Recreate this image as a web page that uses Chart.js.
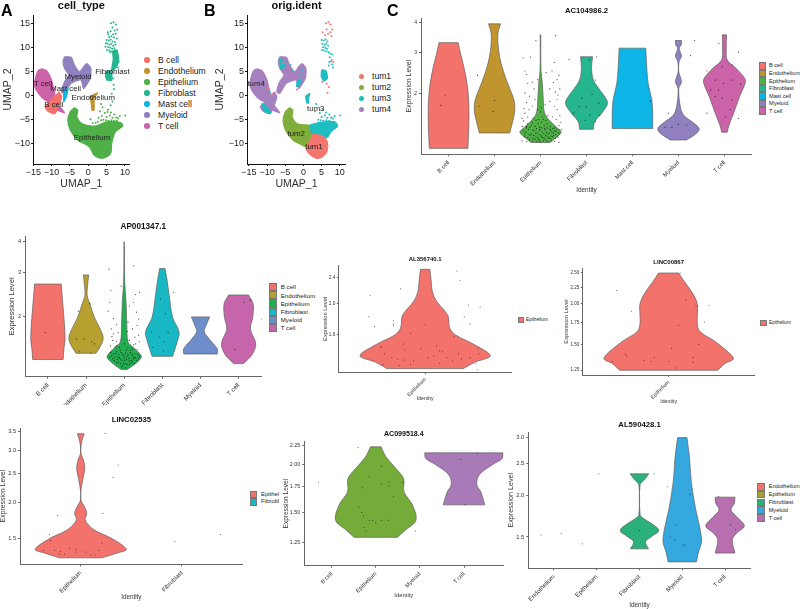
<!DOCTYPE html>
<html>
<head>
<meta charset="utf-8">
<script src="https://cdn.jsdelivr.net/npm/chart.js@4"></script>
<style>
  html, body { margin: 0; background: #fff; }
  #page { position: relative; width: 800px; height: 609px; overflow: hidden; font-family: "Liberation Sans", sans-serif; color: #222; background: #fff; filter: blur(.35px); }
  #page canvas { position: absolute; }
  .tag { position: absolute; font-weight: bold; font-size: 16px; line-height: 16px; color: #000; }
  .txt { position: absolute; white-space: nowrap; }
  .box { position: absolute; box-sizing: border-box; border: 1px solid #777; }
  .dot { position: absolute; border-radius: 50%; }
</style>
</head>
<body>
<div id="page"></div>
<script>
// colours
const salmon = "#F4726C", gold = "#C0952E", green = "#4FB048", teal = "#25B58F", sky = "#0DB4E6", lilac = "#9080C0", pink = "#CC62A8";
const tum1Color = "#F2766E", tum2Color = "#7FAE3A", tum3Color = "#1DBDC0", tum4Color = "#A780C0";

// UMAP cluster outlines
const tCellShape = [[-12.7,5.6],[-11.4,5.2],[-10.3,3.8],[-9.6,2],[-9.1,.1],[-9.8,-1.25],[-11.8,-.9],[-13.6,.5],[-14.7,2.2],[-14.2,4.3],[-13.6,5.3]];
const tCellTail = [[-8.9,-1.2],[-6.5,-3.5],[-8.5,-3],[-9.6,-2]];
const bCellShape = [[-8,.8],[-7.3,-.2],[-8,-1.9],[-9.1,-3.7],[-10.9,-3.3],[-11.8,-2.3],[-10.5,-1.25],[-9.1,-.2]];
const mastShape = [[-6.7,1.2],[-5.5,1.5],[-6,-.2],[-6.7,-1.25]];
const myeloidShape = [[-6.5,8.1],[-4.7,8],[-3.8,6.4],[-2.4,5],[-1.3,6],[-.4,6.7],[.7,5.7],[.5,3.6],[-1.3,1.5],[-2,3.3],[-4.7,2.6],[-6.5,.5],[-7.3,.8],[-6.5,2.9],[-5.3,4.3],[-6.5,5.7],[-6.9,7.1]];
const endoShape = [[.45,-.2],[2.5,.6],[1.6,-.55],[1.6,-3],[1,-3],[.8,-1.6]];
const fibroHead = [[4.9,5],[7.4,5.7],[8.3,7.4],[7.8,9.5],[6.7,9.3],[6.8,7.6],[6.4,5.6],[6.4,3.2],[5.2,3.2],[4.7,4.2]];
const epitheliumShape = [[-3.8,-2.5],[-2.9,-3],[-3.1,-4.4],[-1.5,-5.9],[2,-6.3],[5.2,-5.4],[8.8,-5.6],[9.4,-6.3],[7.4,-7.5],[6.4,-9.9],[6.1,-12],[3.9,-13],[1.6,-12.4],[.3,-10.6],[-2.9,-9.2],[-4.9,-7.2],[-5.6,-5.1],[-4.9,-3.3]];
const fibroDots = [[5.3,13.2],[6.2,15.1],[6.9,15.3],[7.5,14.8],[7.9,13.8],[6.6,14.2],[7.2,13.6],[6.1,13.4],[6.8,12.8],[7.5,12.9],[5.7,12.2],[6.3,12.4],[7,12.1],[7.8,11.9],[5,11.6],[5.6,11.5],[6.1,11.7],[6.6,11.3],[7.3,11.2],[4.8,10.9],[5.2,10.8],[5.8,10.6],[6.3,10.8],[6.8,10.4],[7.4,10.6],[4.7,10.2],[5.4,10.1],[6,10],[6.5,9.8],[7.1,9.9],[5.1,9.5],[5.7,9.4],[6.3,9.2],[6.9,9.1],[7.7,9.4],[5.4,12.8],[6,9.1],[7.3,8.8],[7.9,8.6],[7.2,8],[8,8],[7.6,7.2],[8.3,7],[7.1,7],[7.9,6.5],[7,6.3],[8.1,5.9],[6.9,2.3],[7,1.4],[6.4,.4],[6.6,-1.2],[6.1,-2],[6.8,3.6]];
const epiDots = [[3.2,-3.2],[3.7,-4.2],[4.5,-3.6],[5,-4.4],[5.4,-2.9],[5.9,-4.1],[6.2,-3.5],[6.6,-4.6],[7.1,-3.9],[7.6,-4.5],[8.1,-4.7],[8.6,-4.2],[10.1,-4.1],[4.1,-5],[4.8,-5.1],[5.5,-5.2],[6.3,-5.1],[7.1,-5.2],[7.8,-5.2],[3.5,-5.1],[2.6,-5.4],[2,-5.6],[1.2,-5.7],[.6,-4.9],[3.9,-2.4],[3.5,-1.7],[5.2,-3.4],[2.8,-4.6]];

// panel B mixes the samples over the same clusters
const tum1Shape = [[2.5,-8],[5,-8.3],[6.5,-9.5],[6.5,-11.5],[5,-12.8],[3.5,-13],[1.5,-12],[.7,-10.6],[1.8,-9.5]];
const tum2Shape = [[-3.8,-2.5],[-2.9,-3],[-3.1,-4.4],[-1.5,-5.9],[2,-6.3],[2.2,-8],[1.8,-9.5],[.7,-10.6],[-1,-10],[-2.9,-9.2],[-4.9,-7.2],[-5.6,-5.1],[-4.9,-3.3]];
const tum3Shape = [[2,-6],[5,-5.5],[8.5,-5.4],[9.4,-6.3],[7.5,-7.5],[6.5,-8.7],[4.5,-8.5],[2.5,-8.2],[2,-7]];
const tum3Tail = [[-11.5,-1.6],[-10,-2.2],[-9,-3.7],[-10.5,-3.4]];
const tum3Endo = [[.6,-.1],[1.8,.5],[1.4,-.5],[1.4,-1.6],[.9,-1.4]];
const tum3Head = [[5,5.4],[6.2,5.2],[6.6,3.6],[5.6,3.1],[4.9,4]];
const tum3Lobe = [[-6.6,7.8],[-5.8,7.4],[-5.2,6.2],[-6,5.6],[-6.5,6.6]];
const tum3Right = [[-1,2.2],[-.8,3.5],[-1.6,3.1],[-1.9,1.9]];
const tum1Dots = [[6.2,15.1],[6.9,15.3],[7.5,14.8],[7.9,13.8],[5.3,13.2],[6.4,13.8],[7.4,13.2],[6,12.6],[7.7,12.4],[6.8,12.9],[7.8,7.5],[8.2,7],[5.2,2.9],[6.4,2.5],[7,1.8],[6.6,.6],[-5.6,6.8],[-4.2,5.8],[-9.6,1.4],[-8.7,.2],[-1.8,1.3]];
const tum3Dots = [[5,11.6],[5.6,11.5],[6.1,11.7],[6.6,11.3],[5.2,10.8],[5.8,10.6],[6.3,10.8],[6.8,10.4],[5.4,10.1],[6,10],[6.5,9.8],[5.1,9.5],[5.7,9.4],[6.3,9.2],[6.9,9.1],[7.3,8.8],[7.9,8.6],[7.2,8],[7.6,7.2],[7.1,7],[7.9,6.5],[7,6.3],[8.1,5.9],[3.2,-3.2],[4.5,-3.6],[5,-4.4],[5.4,-2.9],[5.9,-4.1],[6.2,-3.5],[6.6,-4.6],[7.1,-3.9],[7.6,-4.5],[8.1,-4.7],[8.6,-4.2],[10.1,-4.1],[4.1,-5],[4.8,-5.1],[5.5,-5.2],[6.3,-5.1],[7.1,-5.2],[3.5,-1.7],[-4.8,7.2],[-3.6,6.4],[-2.9,5.1],[-1.1,5.8],[-.3,5.4],[-.6,4.4],[-1.5,2.6],[-9.2,.6],[-9.8,-.8],[-8.2,-.8]];

const cellNames = ["B cell", "Endothelium", "Epithelium", "Fibroblast", "Mast cell", "Myeloid", "T cell"];
const cellColors = [salmon, gold, green, teal, sky, lilac, pink];
const tumNames = ["tum1", "tum2", "tum3", "tum4"];
const tumColors = [tum1Color, tum2Color, tum3Color, tum4Color];
const umapXTicks = [-15, -10, -5, 0, 5, 10];
const umapYTicks = [-10, -5, 0, 5, 10, 15];
const cellTags = [["B cell",-9.4,-1.95],["T cell",-12.3,2.4],["Mast cell",-6.2,1.4],["Myeloid",-2.8,3.85],["Fibroblast",6.6,5],["Endothelium",1.35,-.5],["Epithelium",1,-8.7]];
const tumTags = [["tum4",-13,2.4],["tum3",3.4,-2.8],["tum2",-2,-8],["tum1",2.9,-10.6]];

// violin levels (expression value) and half widths (in category units)
const ac104986 = {
  ticks: [2, 3, 4],
  bCell: [[3.29,3.07,2.61,2.22,1.83,1.46,1.18], [.21,.24,.33,.40,.44,.44,.42]],
  endothelium: [[3.95,3.55,2.87,2.37,1.89,1.71,1.55,1.37], [.13,.07,.11,.23,.42,.44,.40,.33]],
  epithelium: [[3.55,2.52,2.22,1.89,1.66,1.53,1.43,1.38,1.32,1.25], [.007,.01,.04,.06,.09,.22,.38,.45,.36,.21]],
  fibroblast: [[2.87,2.74,2.57,2.29,2.08,1.89,1.80,1.66,1.53,1.42], [.13,.12,.11,.15,.29,.44,.45,.33,.18,.15]],
  mast: [[3.12,2.61,2.22,1.89,1.66,1.43], [.29,.31,.34,.42,.44,.44]],
  myeloid: [[3.36,3.22,3.12,2.89,2.74,2.48,2.25,2.11,1.77,1.63,1.53,1.43,1.37,1.28], [.065,.06,.015,.065,.015,.007,.065,.007,.04,.11,.29,.45,.40,.18]],
  tCell: [[3.55,3.07,2.78,2.57,2.33,2.22,1.95,1.66,1.48,1.38], [.045,.04,.06,.25,.44,.45,.33,.20,.10,.06]]
};
const ac104986Dots = [[-.08,1.98],[-.17,1.79],[1,1.88],[.97,1.69],[.66,1.78],[.63,2.4],
  [2.62,2.8],[3.06,2.78],[3.22,2.87],[3.2,2.29],[3.12,2],[2.9,1.92],[3,1.77],[2.72,1.66],[3.07,1.63],[3.29,1.63],[2.97,1.55],[3.19,1.53],[2.84,1.77],[3.27,1.83],[4.39,1.87],
  [4.78,1.66],[4.86,1.45],[5,1.49],[5.18,1.48],[5.26,2.9],[5.35,3.36],[4.71,1.45],
  [5.88,3.27],[6.31,3],[6.17,2.65],[5.95,2.61],[5.62,2.5],[5.8,2.29],[6.16,2.29],[5.98,2.22],[6.35,2.2],[5.8,1.95],[5.95,1.92],[6.17,1.89],[5.62,1.66],[6.31,1.58],[6.02,1.6],[6.13,1.72],[5.7,2.08],[5.87,2.08],
  [1.62,2.84],[1.78,2.86],[1.9,3.36],[2.33,3.52],[1.66,2.5],[1.72,2.22],[1.82,2.24],[1.94,2.3],[2.12,2.46],[2.25,2.5],[2.36,2.3],[2.4,2.4],[2.3,2.72],[2.2,2.1],[2.32,2.04],[2.38,1.98],[1.66,2.02],[1.76,1.96],[1.88,1.9],[1.7,1.84],[1.82,1.78],[1.94,1.72],[2.1,1.8],[2.2,1.86],[2.3,1.78],[2.36,1.72],[1.66,1.66],[1.72,1.6],[1.84,1.58],[2.16,1.62],[2.26,1.6],[2.34,1.56],[1.63,1.54],[1.6,1.46],
  [1.72,1.5],[1.8,1.48],[1.88,1.46],[1.95,1.5],[2.02,1.52],[2.08,1.47],[2.14,1.5],[2.22,1.46],[2.3,1.44],[2.4,1.47],[2.46,1.42],[1.62,1.4],[1.68,1.38],[1.74,1.42],[1.8,1.36],[1.86,1.4],[1.92,1.37],[1.98,1.42],[2.04,1.38],[2.1,1.41],[2.16,1.36],[2.22,1.4],[2.28,1.37],[2.34,1.39],[2.4,1.36],[1.66,1.33],[1.72,1.31],[1.78,1.34],[1.84,1.3],[1.9,1.33],[1.96,1.29],[2.02,1.32],[2.08,1.3],[2.14,1.33],[2.2,1.3],[2.26,1.32],[2.32,1.3],[2.38,1.31],[1.6,1.27],[1.7,1.26],[1.82,1.27],[1.92,1.26],[2,1.25],[2.06,1.27],[2.16,1.26],[2.3,1.26],[2.4,1.25],[1.96,1.56],[2.04,1.6],[2,1.68],[2.02,1.75],[1.98,1.45],
  [1.65,1.36],[1.69,1.44],[1.75,1.35],[1.77,1.45],[1.83,1.41],[1.85,1.34],[1.89,1.37],[1.91,1.43],[1.94,1.31],[1.97,1.35],[1.99,1.4],[2.01,1.34],[2.03,1.44],[2.05,1.31],[2.07,1.36],[2.09,1.43],[2.11,1.34],[2.13,1.38],[2.15,1.44],[2.17,1.31],[2.19,1.37],[2.21,1.42],[2.23,1.33],[2.25,1.38],[2.27,1.43],[2.29,1.34],[2.31,1.4],[2.33,1.35],[2.35,1.42],[2.37,1.33],[2.39,1.38],[2.42,1.41],[1.7,1.46],[1.76,1.29],[1.88,1.29],[1.98,1.27],[2.12,1.28],[2.24,1.28],[1.82,1.52],[1.9,1.55],[2.06,1.56],[2.12,1.55],[1.64,1.74],[1.7,2.42],[2.42,2.1],[2.36,1.9],[1.75,1.72],[2.28,2.24],[2.42,1.62],[1.6,1.58],[2.44,1.52],[1.86,2.1]];

const ap001347 = {
  ticks: [2, 3, 4],
  bCell: [[2.7,2.35,1.98,1.63,1.48,1.34], [.35,.38,.42,.45,.42,.40]],
  endothelium: [[2.94,2.66,2.43,2.25,1.98,1.78,1.63,1.51,1.42], [.07,.04,.03,.10,.22,.37,.45,.37,.26]],
  epithelium: [[4,2.75,2.28,1.84,1.58,1.51,1.42,1.37,1.31,1.22], [.005,.015,.05,.07,.10,.22,.40,.45,.35,.08]],
  fibroblast: [[3.12,2.83,2.43,1.98,1.73,1.58,1.38], [.07,.12,.18,.27,.44,.39,.27]],
  myeloid: [[1.99,1.81,1.73,1.6,1.48,1.41], [.24,.13,.10,.26,.44,.44]],
  tCell: [[2.44,2.25,1.98,1.78,1.55,1.4,1.29], [.26,.38,.37,.31,.45,.35,.13]]
};
const ap001347Dots = [[-.07,1.72],[.8,2.1],[1.1,2.25],[.75,1.62],[.95,1.62],[1.15,1.58],[1.12,1.42],[1.22,1.55],[.82,1.45],
  [1.6,3.1],[1.65,2.55],[1.62,2.28],[1.58,2.1],[2.25,3.2],[1.92,2.65],[2.3,2.45],[2.4,2.5],[2.24,2.28],[2.14,2.2],[2.32,2.08],[2.38,1.95],[1.72,1.96],[1.8,1.85],[1.66,1.78],[1.72,1.7],[1.84,1.72],[2.1,1.9],[2.22,1.78],[2.34,1.84],[2.08,1.74],[2.28,1.65],[1.7,1.6],[1.8,1.58],[2.14,1.6],[2.3,1.55],[2.4,1.58],[1.64,1.52],[1.76,1.5],[1.88,1.5],[2,1.55],[2.1,1.5],[2.2,1.48],[2.34,1.47],
  [1.65,1.43],[1.72,1.41],[1.8,1.44],[1.86,1.4],[1.92,1.43],[1.98,1.39],[2.04,1.42],[2.1,1.4],[2.16,1.43],[2.22,1.39],[2.28,1.42],[2.36,1.4],[1.62,1.37],[1.7,1.35],[1.76,1.37],[1.82,1.34],[1.88,1.36],[1.94,1.33],[2,1.36],[2.06,1.34],[2.12,1.36],[2.18,1.33],[2.24,1.35],[2.3,1.36],[2.38,1.35],[1.8,1.3],[1.9,1.29],[1.98,1.3],[2.08,1.28],[2.18,1.3],[2.26,1.29],[1.94,1.25],[2.04,1.24],
  [1.67,1.39],[1.74,1.33],[1.78,1.42],[1.84,1.37],[1.9,1.34],[1.96,1.41],[2.02,1.33],[2.07,1.38],[2.13,1.32],[2.2,1.41],[2.26,1.37],[2.33,1.33],[2.4,1.38],[1.85,1.31],[1.96,1.27],[2.02,1.29],[2.14,1.28],[2.22,1.32],[1.9,1.46],[2.06,1.46],[2.16,1.46],[1.8,1.52],[2.25,1.54],[1.68,1.66],[2.38,1.68],
  [2.95,2.35],[3.3,2.5],[2.72,1.73],[2.92,1.65],[3.15,1.72],[3.05,1.58],[3.03,1.45],[2.75,1.5],[3.08,2.05],[4.9,1.47],[5.8,2.3],[5.15,2.28],[5.3,2.32],[5.6,1.95],[5.78,1.7],[5.95,1.55],[5.72,1.5],[5.7,1.42],[6,1.6]];

const al356740 = { ticks: [1.6, 2, 2.4], epithelium: [[2.55,2.39,2.18,2.03,1.84,1.68,1.6,1.49,1.38,1.32,1.26], [.032,.04,.05,.08,.156,.17,.21,.345,.45,.345,.264]] };
const al356740Dots = [[.22,2.52],[.24,2.36],[-.17,2.22],[-.38,2.12],[.3,1.98],[.38,1.95],[.27,1.82],[-.39,1.82],[-.22,1.77],[-.22,1.73],[-.22,1.71],[-.35,1.7],[.31,1.73],[0,1.72],[-.1,1.62],[.2,1.58],[.08,1.48],[-.15,1.5],[-.3,1.47],[.37,1.46],[-.31,1.47],[-.28,1.4],[-.14,1.44],[-.03,1.45],[.1,1.43],[.12,1.42],[.23,1.4],[.37,1.4],[-.23,1.36],[-.19,1.35],[-.14,1.34],[-.08,1.33],[.02,1.36],[.06,1.38],[.15,1.36],[.25,1.35],[.31,1.36],[-.29,1.3],[-.18,1.29],[-.1,1.3],[.1,1.31],[.19,1.33],[.35,1.31],[.36,1.25]];
const linc00867 = { ticks: [1.25, 1.5, 1.75, 2, 2.25, 2.5], epithelium: [[2.49,2.34,2.13,1.99,1.89,1.72,1.64,1.53,1.36,1.31,1.25], [.07,.11,.174,.20,.20,.20,.22,.325,.45,.39,.34]] };
const linc00867Dots = [[.08,2.49],[-.36,2.2],[.12,2.06],[.19,1.97],[.28,1.98],[-.26,1.9],[.25,1.76],[.07,1.72],[.02,1.46],[.21,1.5],[-.3,1.4],[.17,1.37],[-.17,1.34],[-.12,1.33],[-.39,1.33],[-.29,1.38],[.17,1.32],[.05,1.27],[.0,1.33],[-.1,1.37]];
const linc02535 = { ticks: [1.5, 2, 2.5, 3, 3.5], epithelium: [[3.43,3.19,2.94,2.79,2.62,2.39,2.2,2.03,1.93,1.83,1.74,1.61,1.51,1.38,1.34,1.29], [.033,.007,.003,.026,.04,.02,.003,.003,.036,.06,.043,.13,.295,.45,.36,.21]] };
const linc02535Dots = [[.24,3.44],[.37,2.68],[.32,2.43],[.22,1.83],[-.23,1.8],[-.31,1.55],[-.3,1.48],[.93,1.47],[1.38,1.55],[.21,1.45],[-.37,1.37],[-.26,1.37],[-.21,1.33],[-.2,1.36],[-.16,1.33],[-.11,1.39],[-.05,1.38],[-.04,1.35],[.1,1.32],[.14,1.32],[.18,1.37],[.05,1.35]];
const ac099518 = { ticks: [1.25, 1.5, 1.75, 2, 2.25],
  epithelium: [[2.23,2.1,1.96,1.84,1.7,1.57,1.43,1.35,1.29], [.12,.23,.45,.63,.64,.83,.91,.68,.49]],
  tCell: [[2.15,2.08,2,1.88,1.77,1.7,1.57], [.89,.87,.64,.34,.29,.38,.47]] };
const ac099518Dots = [[.6,2.22],[1.13,1.98],[.85,1.86],[1.13,1.78],[1.3,1.8],[1.3,1.76],[.7,1.74],[1.4,1.65],[.68,1.5],[-.3,1.8],[.72,1.47],[.85,1.43],[.93,1.43],[1,1.41],[1.13,1.43],[1.29,1.43],[.73,1.37],[.78,1.34],[1.9,1.34],[2.92,2.07],[3.3,2.14],[3.02,1.57],[-.1,1.06],[1.6,1.8],[.62,1.55]];
const al590428 = { ticks: [1.5, 2, 2.5, 3],
  fibroblast: [[2.33,2.24,2.16,1.75,1.71,1.65,1.57,1.5,1.45,1.38], [.22,.12,.015,.015,.08,.27,.45,.27,.14,.21]],
  myeloid: [[3,2.6,2.21,1.83,1.6,1.45,1.35,1.26], [.11,.17,.21,.31,.41,.45,.38,.33]],
  tCell: [[1.98,1.9,1.81,1.73,1.62,1.54,1.47,1.34], [.23,.22,.14,.27,.45,.27,.17,.23]] };
const al590428Dots = [[-.3,1.52],[.17,1.54],[.66,1.43],[1.05,2.33],[2,1.57],[2.34,2.33],[2.65,2.13],[3.18,2.02],[2.85,1.63],[2.72,1.5],[2.83,1.47],[3.02,1.41],[3.06,1.42],[3.85,1.99],[4.13,1.63],[4.24,1.58]];

const page = document.getElementById("page");
const baseFont = "'Liberation Sans', sans-serif";
Chart.defaults.font.family = baseFont;

function closed(points) { return points.concat([points[0]]); }

function shape(points, color, tension = 0.3) {
  return { type: "scatter", data: closed(points).map(p => ({ x: p[0], y: p[1] })), showLine: true, fill: "shape", tension,
    backgroundColor: color, borderColor: color, borderWidth: 1.2, pointRadius: 0 };
}
function dots(points, color, r = 1) {
  return { type: "scatter", data: points.map(p => ({ x: p[0], y: p[1] })), backgroundColor: color, pointRadius: r, borderWidth: 0 };
}
// right side going down, left side coming back up; end levels doubled so the flat caps stay square
function violin(center, level, color) {
  const [values, widths] = level;
  const last = values.length - 1;
  const side = sign => values.flatMap((v, i) => {
    const pt = { x: center + sign * widths[i], y: v };
    return i === 0 || i === last ? [pt, pt] : [pt];
  });
  const outline = side(1).concat(side(-1).reverse());
  outline.push(outline[0]);
  return { type: "scatter", data: outline, showLine: true, fill: "shape", tension: 0.35, backgroundColor: color, borderColor: "#5f5f5f", borderWidth: 0.7, pointRadius: 0 };
}

const tagPlugin = {
  id: "tags",
  afterDatasetsDraw(chart, args, opts) {
    if (!opts.items) return;
    const ctx = chart.ctx;
    ctx.save();
    ctx.font = opts.size + "px " + baseFont;
    ctx.fillStyle = "#222";
    ctx.textAlign = "center";
    ctx.textBaseline = "middle";
    opts.items.forEach(t => ctx.fillText(t[0], chart.scales.x.getPixelForValue(t[1]), chart.scales.y.getPixelForValue(t[2])));
    ctx.restore();
  }
};

function panel(p) {
  const x0 = Math.round(p.yTitleX - 0.6 * p.yTitleSize);
  const y0 = Math.round(p.titleY - p.titleSize / 2);
  const bottom = p.xTitleY ? Math.ceil(p.xTitleY + 0.6 * p.xTitleSize) : p.canvasBottom;
  const w = Math.ceil(p.box[2]) - x0, h = bottom - y0;
  const c = document.createElement("canvas");
  c.width = w; c.height = h;
  c.style.left = x0 + "px"; c.style.top = y0 + "px";
  c.style.width = w + "px"; c.style.height = h + "px";
  page.appendChild(c);
  const axis = { color: p.axisColor, width: p.axisWidth };
  const grid = { drawOnChartArea: false, drawTicks: true, tickLength: p.tickLen, tickColor: p.axisColor, tickWidth: p.axisWidth };
  // chart.js paints the first dataset last, so number them to keep list order = paint order
  p.datasets.forEach((d, i) => { d.order = p.datasets.length - i; });
  new Chart(c, {
    data: { datasets: p.datasets },
    plugins: [tagPlugin],
    options: {
      responsive: false,
      animation: false,
      layout: { autoPadding: false, padding: { right: w - (p.box[2] - x0) } },
      plugins: {
        legend: { display: false },
        tooltip: { enabled: false },
        title: { display: true, text: p.title, fullSize: false, color: "#111",
          font: { size: p.titleSize, weight: "bold", lineHeight: 1 },
          padding: { top: 0, bottom: p.box[1] - y0 - p.titleSize } },
        tags: { items: p.tags, size: p.tagSize }
      },
      scales: {
        x: { type: "linear", min: p.xMin, max: p.xMax, border: axis, grid,
          title: { display: !!p.xTitleY, text: p.xTitle, color: "#333", padding: 0, font: { size: p.xTitleSize } },
          afterFit: s => { s.height = bottom - p.box[3]; },
          afterBuildTicks: s => { s.ticks = p.xTicks.map(v => ({ value: v })); },
          ticks: { autoSkip: false, minRotation: p.xRotate, maxRotation: p.xRotate, padding: p.xPad, color: p.tickColor,
            font: { size: p.xTickSize }, callback: p.xLabel } },
        y: { type: p.yType, min: p.yMin, max: p.yMax, border: axis, grid,
          title: { display: true, text: p.yTitle, color: "#333", padding: 0, font: { size: p.yTitleSize } },
          afterFit: s => { s.width = p.box[0] - x0; },
          afterBuildTicks: s => { s.ticks = p.yTicks.map(v => ({ value: v })); },
          ticks: { autoSkip: false, padding: p.yPad, color: p.tickColor, font: { size: p.yTickSize }, callback: p.yLabel } }
      }
    }
  });
}

function addText(text, x, y, size, cls = "txt") {
  const d = document.createElement("div");
  d.className = cls;
  d.textContent = text;
  d.style.left = x + "px"; d.style.top = (y - size * 0.6) + "px";
  d.style.fontSize = size + "px"; d.style.lineHeight = (size * 1.2) + "px";
  page.appendChild(d);
}
function circleLegend(names, colors, dotX, textX, topY, step, size) {
  names.forEach((n, i) => {
    const d = document.createElement("div");
    d.className = "dot";
    d.style.cssText = `left:${dotX - 2.75}px;top:${topY + i * step - 2.75}px;width:5.5px;height:5.5px;background:${colors[i]}`;
    page.appendChild(d);
    addText(n, textX, topY + i * step, size);
  });
}
function boxLegend(names, colors, boxX, textX, topY, step, boxW, size) {
  names.forEach((n, i) => {
    const d = document.createElement("div");
    d.className = "box";
    d.style.cssText = `left:${boxX}px;top:${topY + i * step}px;width:${boxW}px;height:${step}px;background:${colors[i]}`;
    page.appendChild(d);
    addText(n, textX, topY + i * step + step / 2, size);
  });
}

const minus = v => String(v).replace("-", "\u2212");
const umapBase = { yType: "linear", xTitle: "UMAP_1", yTitle: "UMAP_2", xTicks: umapXTicks, yTicks: umapYTicks, xRotate: 0,
  axisColor: "#111", axisWidth: 1, tickLen: 2, tickColor: "#222", titleSize: 11, titleY: 5, xTitleY: 183, xTitleSize: 10.5, yTitleSize: 10.5,
  xTickSize: 9, yTickSize: 9, xPad: 1, yPad: 1, xLabel: minus, yLabel: minus, tagSize: 7.8, yMin: -14.2, yMax: 16.8 };
const violinBase = { yType: "logarithmic", xRotate: 45, xTitle: "Identity", yTitle: "Expression Level", axisColor: "#666", axisWidth: 1, tickLen: 2, tickColor: "#333" };
const oneDigit = v => v.toFixed(1), twoDigit = v => v.toFixed(2), noDigit = v => String(v);
const catLabel = names => v => names[v];

// A
panel({ ...umapBase, title: "cell_type", box: [33, 15, 131, 164], yTitleX: 8, xMin: -15.1, xMax: 11.3, tags: cellTags,
  datasets: [
    shape(epitheliumShape, green), dots(epiDots, green), shape(endoShape, gold, .1), shape(fibroHead, teal, .2), dots(fibroDots, teal),
    shape(myeloidShape, lilac, .2), shape(tCellShape, pink), shape(tCellTail, pink, .1), shape(bCellShape, salmon, .2), shape(mastShape, sky, .1)
  ] });
// B
panel({ ...umapBase, title: "orig.ident", box: [247, 15, 346, 164], yTitleX: 220, xMin: -15.5, xMax: 11.7, tags: tumTags,
  datasets: [
    shape(tum2Shape, tum2Color), shape(tum3Shape, tum3Color), shape(tum1Shape, tum1Color), shape(tum3Endo, tum3Color, .1), shape(tum3Head, tum3Color, .2),
    shape(myeloidShape, tum4Color, .2), shape(tCellShape, tum4Color), shape(tCellTail, tum4Color, .1), shape(bCellShape, tum4Color, .2),
    shape(tum3Tail, tum3Color, .2), shape(tum3Lobe, tum3Color, .2), shape(tum3Right, tum3Color, .1), dots(tum3Dots, tum3Color), dots(tum1Dots, tum1Color)
  ] });
circleLegend(cellNames, cellColors, 147, 158, 60, 11, 8.6);
circleLegend(tumNames, tumColors, 361.3, 372, 76.3, 11, 8.6);

// C
panel({ ...violinBase, title: "AC104986.2", titleSize: 7.7, titleY: 10.7, box: [421, 18, 752, 154.3], yTitleX: 409, yTitleSize: 6.9, xTitleY: 190, xTitleSize: 6.4,
  xMin: -.6, xMax: 6.6, xTicks: [0,1,2,3,4,5,6], xLabel: catLabel(cellNames), yTicks: ac104986.ticks, yLabel: noDigit, yMin: 1.114, yMax: 4.18, xTickSize: 5.9, yTickSize: 5, xPad: 3, yPad: 2,
  datasets: [violin(0, ac104986.bCell, salmon), violin(1, ac104986.endothelium, gold), violin(2, ac104986.epithelium, green), violin(3, ac104986.fibroblast, teal), violin(4, ac104986.mast, sky), violin(5, ac104986.myeloid, lilac), violin(6, ac104986.tCell, pink), dots(ac104986Dots, "rgba(0,0,0,.75)", .6)] });
boxLegend(cellNames, cellColors, 758.7, 769, 62, 7.55, 7, 5.6);

// AP001347.1
const apNames = ["B cell", "Endothelium", "Epithelium", "Fibroblast", "Myeloid", "T cell"];
const apColors = [salmon, "#B8A030", "#22AE50", "#17B8C4", "#6D8DCB", "#C765AC"];
panel({ ...violinBase, title: "AP001347.1", titleSize: 8.2, titleY: 226.7, box: [25, 236, 261.5, 376.7], yTitleX: 12, yTitleSize: 7.6, canvasBottom: 405,
  xMin: -.6, xMax: 5.6, xTicks: [0,1,2,3,4,5], xLabel: catLabel(apNames), yTicks: ap001347.ticks, yLabel: noDigit, yMin: 1.142, yMax: 4.22, xTickSize: 6.3, yTickSize: 5.6, xPad: 3, yPad: 2,
  datasets: [violin(0, ap001347.bCell, apColors[0]), violin(1, ap001347.endothelium, apColors[1]), violin(2, ap001347.epithelium, apColors[2]), violin(3, ap001347.fibroblast, apColors[3]), violin(4, ap001347.myeloid, apColors[4]), violin(5, ap001347.tCell, apColors[5]), dots(ap001347Dots, "rgba(0,0,0,.75)", .6)] });
boxLegend(apNames, apColors, 269.3, 280.7, 283, 8.2, 7.6, 6.2);

// AL356740.1
panel({ ...violinBase, title: "AL356740.1", titleSize: 6, titleY: 258.7, box: [338.3, 265, 512, 372.7], yTitleX: 325, yTitleSize: 5.8, xTitleY: 398.3, xTitleSize: 5.2,
  xMin: -.6, xMax: .6, xTicks: [0], xLabel: catLabel(["Epithelium"]), yTicks: al356740.ticks, yLabel: oneDigit, yMin: 1.224, yMax: 2.63, xTickSize: 5.1, yTickSize: 4.7, xPad: 2.5, yPad: 1.5, tickLen: 1.5,
  datasets: [violin(0, al356740.epithelium, salmon), dots(al356740Dots, "rgba(0,0,0,.75)", .5)] });
boxLegend(["Epithelium"], [salmon], 517.7, 526, 317, 6.4, 6.4, 4.7);

// LINC00867
panel({ ...violinBase, title: "LINC00867", titleSize: 6, titleY: 261.7, box: [582.3, 268, 755, 375.3], yTitleX: 566, yTitleSize: 5.8, xTitleY: 401, xTitleSize: 5.2,
  xMin: -.6, xMax: .6, xTicks: [0], xLabel: catLabel(["Epithelium"]), yTicks: linc00867.ticks, yLabel: twoDigit, yMin: 1.206, yMax: 2.58, xTickSize: 5.1, yTickSize: 4.5, xPad: 2.5, yPad: 1.5, tickLen: 1.5,
  datasets: [violin(0, linc00867.epithelium, salmon), dots(linc00867Dots, "rgba(0,0,0,.75)", .5)] });
boxLegend(["Epithelium"], [salmon], 760.3, 769, 320, 6.4, 6.4, 4.7);

// LINC02535
panel({ ...violinBase, title: "LINC02535", titleSize: 7.7, titleY: 420, box: [20, 428, 242.7, 564.3], yTitleX: 3.5, yTitleSize: 6.9, xTitleY: 597, xTitleSize: 6.3,
  xMin: -.6, xMax: 1.6, xTicks: [0, 1], xLabel: catLabel(["Epithelium", "Fibroblast"]), yTicks: linc02535.ticks, yLabel: oneDigit, yMin: 1.226, yMax: 3.59, xTickSize: 6.1, yTickSize: 5.6, xPad: 3, yPad: 2,
  datasets: [violin(0, linc02535.epithelium, salmon), dots(linc02535Dots, "rgba(0,0,0,.75)", .5)] });
boxLegend(["Epithel", "Fibrobl"], [salmon, "#17B8C4"], 249.5, 261, 490.5, 7.5, 7.5, 5.9);

// AC099518.4
panel({ ...violinBase, title: "AC099518.4", titleSize: 7.1, titleY: 434, box: [304.3, 441.7, 503.3, 565.7], yTitleX: 285.7, yTitleSize: 6.5, xTitleY: 595, xTitleSize: 5.9,
  xMin: -.62, xMax: 3.89, xTicks: [0, 1, 2, 3], xLabel: catLabel(["B cell", "Epithelium", "Myeloid", "T cell"]), yTicks: ac099518.ticks, yLabel: twoDigit, yMin: 1.087, yMax: 2.3, xTickSize: 5.7, yTickSize: 5.4, xPad: 3, yPad: 2,
  datasets: [violin(1, ac099518.epithelium, "#75AB38"), violin(3, ac099518.tCell, "#A87AB8"), dots(ac099518Dots, "rgba(0,0,0,.75)", .5)] });

// AL590428.1
const alNames = ["Endothelium", "Epithelium", "Fibroblast", "Myeloid", "T cell"];
const alColors = [salmon, "#A8A030", "#2BB07A", "#35A8E0", "#B86FB0"];
panel({ ...violinBase, title: "AL590428.1", titleSize: 7.7, titleY: 425, box: [528.3, 432, 750.7, 568.3], yTitleX: 511, yTitleSize: 7.2, xTitleY: 605, xTitleSize: 6.4,
  xMin: -.6, xMax: 4.6, xTicks: [0,1,2,3,4], xLabel: catLabel(alNames), yTicks: al590428.ticks, yLabel: oneDigit, yMin: 1.205, yMax: 3.12, xTickSize: 6.2, yTickSize: 5.8, xPad: 3, yPad: 2,
  datasets: [violin(2, al590428.fibroblast, alColors[2]), violin(3, al590428.myeloid, alColors[3]), violin(4, al590428.tCell, alColors[4]), dots(al590428Dots, "rgba(0,0,0,.75)", .5)] });
boxLegend(alNames, alColors, 757.3, 768.7, 482.7, 7.9, 7.6, 5.6);

[["A", 1, 3], ["B", 204, 3], ["C", 387, 3]].forEach(t => {
  const d = document.createElement("div");
  d.className = "tag"; d.textContent = t[0];
  d.style.left = t[1] + "px"; d.style.top = t[2] + "px";
  page.appendChild(d);
});
</script>
</body>
</html>
